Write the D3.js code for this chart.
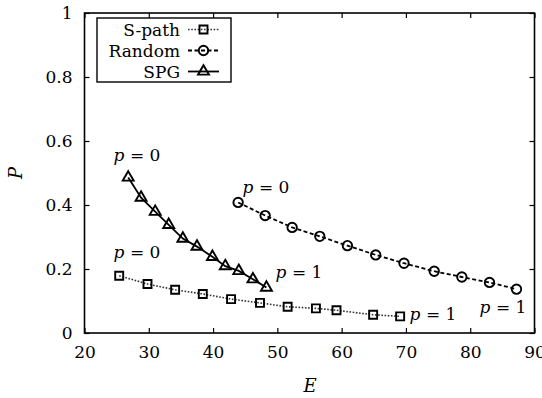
<!DOCTYPE html>
<html>
<head>
<meta charset="utf-8">
<script src="https://cdn.jsdelivr.net/npm/d3@7"></script>
<style>
  html, body { margin: 0; padding: 0; background: #fff; }
  svg { display: block; font-family: "DejaVu Serif", serif; }
</style>
</head>
<body>
<svg id="chart" width="542" height="398"></svg>
<script>
// Energy E vs. probability P for three routing schemes, p sweeping 0 → 1
const spathE = [25.4, 29.8, 34.1, 38.4, 42.8, 47.3, 51.6, 56.0, 59.2, 64.9, 69.1];
const spathP = [0.179, 0.153, 0.135, 0.122, 0.106, 0.094, 0.082, 0.077, 0.071, 0.057, 0.052];

const randomE = [43.9, 48.1, 52.3, 56.6, 60.9, 65.3, 69.7, 74.4, 78.7, 83.0, 87.2];
const randomP = [0.408, 0.367, 0.330, 0.302, 0.273, 0.244, 0.218, 0.193, 0.175, 0.158, 0.137];

const spgE = [26.8, 28.8, 31.0, 33.1, 35.3, 37.5, 39.9, 41.9, 44.0, 46.2, 48.3];
const spgP = [0.486, 0.423, 0.379, 0.338, 0.295, 0.270, 0.238, 0.209, 0.194, 0.168, 0.142];

const xTicks = [20, 30, 40, 50, 60, 70, 80, 90];
const yTicks = [0, 0.2, 0.4, 0.6, 0.8, 1];
const seriesNames = ["S-path", "Random", "SPG"];

const svg = d3.select("#chart");
const plotL = 84.5, plotR = 534.5, plotT = 13, plotB = 333;
const x = d3.scaleLinear().domain([20, 90]).range([plotL, plotR]);
const y = d3.scaleLinear().domain([0, 1]).range([plotB, plotT]);

// Axes with inward ticks, mirrored on top and right
const fmt = d => d3.format("~g")(d);
const axB = svg.append("g").attr("transform", `translate(0,${plotB})`)
  .call(d3.axisBottom(x).tickValues(xTicks).tickSize(-5).tickPadding(13).tickFormat(fmt));
const axT = svg.append("g").attr("transform", `translate(0,${plotT})`)
  .call(d3.axisTop(x).tickValues(xTicks).tickSize(-5).tickFormat(""));
const axL = svg.append("g").attr("transform", `translate(${plotL},0)`)
  .call(d3.axisLeft(y).tickValues(yTicks).tickSize(-5).tickPadding(12).tickFormat(fmt));
const axR = svg.append("g").attr("transform", `translate(${plotR},0)`)
  .call(d3.axisRight(y).tickValues(yTicks).tickSize(-5).tickFormat(""));
[axB, axT, axL, axR].forEach(g => {
  g.select(".domain").remove();
  g.selectAll(".tick line").attr("stroke", "#000").attr("stroke-width", 1.2);
  g.selectAll(".tick text").attr("fill", "#000").attr("font-size", 17)
    .attr("font-family", "DejaVu Serif, serif");
});
axB.selectAll(".tick text").attr("dy", "0.71em");

svg.append("rect").attr("x", plotL).attr("y", plotT)
  .attr("width", plotR - plotL).attr("height", plotB - plotT)
  .attr("fill", "none").attr("stroke", "#000").attr("stroke-width", 1.6);

// Axis titles
svg.append("text").attr("x", 310).attr("y", 392).attr("text-anchor", "middle")
  .attr("font-size", 18).attr("font-style", "italic").text("E");
svg.append("text").attr("transform", "translate(22,173) rotate(-90)")
  .attr("text-anchor", "middle").attr("font-size", 18).attr("font-style", "italic").text("P");

const styles = [
  { e: spathE, p: spathP, dash: "1.6,1.6", color: "#333", width: 1.6, marker: "square" },
  { e: randomE, p: randomP, dash: "4,2.5", color: "#000", width: 1.8, marker: "circle" },
  { e: spgE, p: spgP, dash: null, color: "#000", width: 1.8, marker: "triangle" }
];

const symbols = {
  square: d3.symbol().type(d3.symbolSquare).size(64),
  circle: d3.symbol().type(d3.symbolCircle).size(70),
  triangle: d3.symbol().type(d3.symbolTriangle).size(52)
};

function drawMarker(g, type, cx, cy) {
  g.append("path").attr("d", symbols[type]())
    .attr("transform", `translate(${cx},${cy})`)
    .attr("fill", "none").attr("stroke", "#000").attr("stroke-width", 1.9);
}

styles.forEach(s => {
  const pts = s.e.map((e, i) => [x(e), y(s.p[i])]);
  svg.append("path").attr("d", d3.line()(pts))
    .attr("fill", "none").attr("stroke", s.color).attr("stroke-width", s.width)
    .attr("stroke-dasharray", s.dash);
  const g = svg.append("g");
  pts.forEach(([cx, cy]) => drawMarker(g, s.marker, cx, cy));
});

// p = 0 / p = 1 annotations
const notes = [
  { t: "0", x: 137, y: 161 }, { t: "0", x: 137, y: 258 }, { t: "0", x: 266, y: 193 },
  { t: "1", x: 299, y: 278 }, { t: "1", x: 433, y: 320 }, { t: "1", x: 503, y: 313 }
];
notes.forEach(n => {
  const t = svg.append("text").attr("x", n.x).attr("y", n.y).attr("text-anchor", "middle")
    .attr("font-size", 17);
  t.append("tspan").attr("font-style", "italic").text("p");
  t.append("tspan").text(" = " + n.t);
});

// Legend
svg.append("rect").attr("x", 97).attr("y", 18).attr("width", 134).attr("height", 64)
  .attr("fill", "#fff").attr("stroke", "#000").attr("stroke-width", 1.4);
seriesNames.forEach((name, i) => {
  const by = 36 + i * 21, ly = 29.5 + i * 21;
  svg.append("text").attr("x", 180).attr("y", by).attr("text-anchor", "end")
    .attr("font-size", 17).text(name);
  const s = styles[i];
  svg.append("line").attr("x1", 188).attr("x2", 219).attr("y1", ly).attr("y2", ly)
    .attr("stroke", s.color).attr("stroke-width", s.width).attr("stroke-dasharray", s.dash);
  drawMarker(svg, s.marker, 203.5, ly);
});
</script>
</body>
</html>
